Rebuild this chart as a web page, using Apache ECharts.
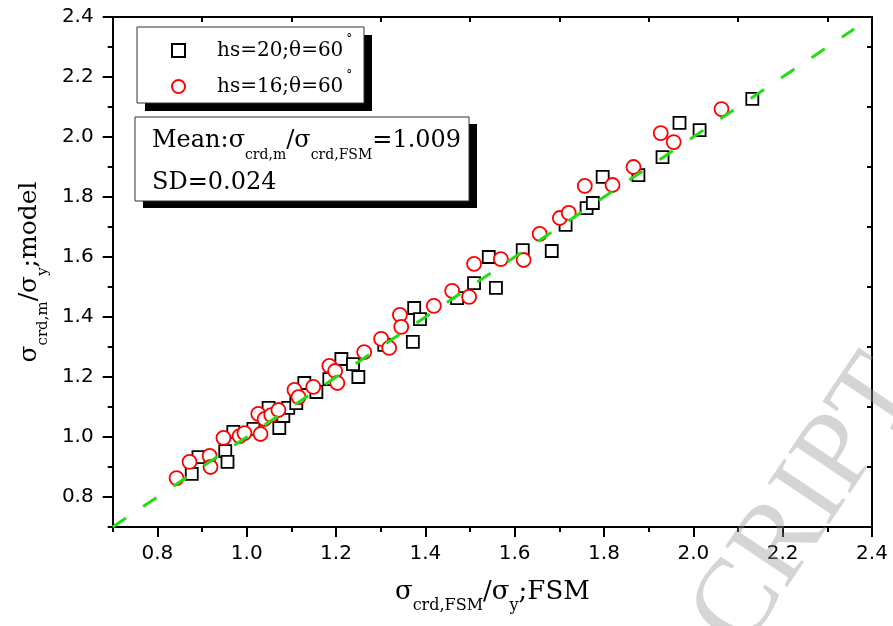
<!DOCTYPE html>
<html>
<head>
<meta charset="utf-8">
<script src="https://cdn.jsdelivr.net/npm/echarts@6/dist/echarts.min.js"></script>
<style>
  html, body { margin: 0; padding: 0; background: #fff; }
  #chart { width: 893px; height: 626px; }
</style>
</head>
<body>
<div id="chart"></div>
<script>
// hs=20 (squares)
const sqX = [0.877, 0.892, 0.952, 0.957, 0.970, 1.015, 1.049, 1.073, 1.082, 1.093, 1.111, 1.129, 1.156, 1.185, 1.212, 1.238, 1.250, 1.308,
  1.372, 1.375, 1.388, 1.471, 1.509, 1.558, 1.542, 1.618, 1.683, 1.714, 1.761, 1.775, 1.797, 1.877, 1.931, 1.969, 2.014, 2.132]
const sqY = [0.877, 0.933, 0.953, 0.917, 1.017, 1.027, 1.097, 1.030, 1.070, 1.097, 1.113, 1.180, 1.150, 1.193, 1.260, 1.243, 1.200, 1.307,
  1.317, 1.430, 1.393, 1.463, 1.513, 1.497, 1.600, 1.623, 1.620, 1.707, 1.763, 1.780, 1.867, 1.873, 1.933, 2.047, 2.023, 2.127]
// hs=16 (circles)
const ciX = [0.843, 0.872, 0.917, 0.919, 0.948, 0.984, 0.995, 1.031, 1.026, 1.040, 1.055, 1.071, 1.107, 1.116, 1.149, 1.185, 1.198, 1.203,
  1.263, 1.301, 1.319, 1.343, 1.346, 1.419, 1.460, 1.498, 1.509, 1.569, 1.620, 1.656, 1.701, 1.721, 1.757, 1.819, 1.866, 1.927, 1.956, 2.063]
const ciY = [0.863, 0.917, 0.937, 0.900, 0.997, 1.003, 1.013, 1.010, 1.077, 1.060, 1.073, 1.090, 1.157, 1.133, 1.167, 1.237, 1.220, 1.180,
  1.283, 1.327, 1.297, 1.407, 1.367, 1.437, 1.487, 1.467, 1.577, 1.593, 1.590, 1.677, 1.730, 1.747, 1.837, 1.840, 1.900, 2.013, 1.983, 2.093]
// y = x reference line
const lineX = [0.7, 2.36]

const majorTicks = [0.8, 1.0, 1.2, 1.4, 1.6, 1.8, 2.0, 2.2, 2.4]
const minorTicks = [0.7, 0.9, 1.1, 1.3, 1.5, 1.7, 1.9, 2.1, 2.3]
const innerTicks = [0.9, 1.1, 1.3, 1.5, 1.7, 1.9, 2.1, 2.3]

const seriesNames = ['hs=20;θ=60', 'hs=16;θ=60']

const serif = 'DejaVu Serif'
const sans = 'DejaVu Sans'
const lineBlack = { color: '#000', width: 2 }

function mainAxis (pos, isX) {
  return {
    type: 'value',
    min: 0.7,
    max: 2.4,
    position: pos,
    axisLine: { onZero: false, lineStyle: lineBlack },
    axisTick: { customValues: majorTicks, length: 10, lineStyle: lineBlack },
    axisLabel: {
      customValues: majorTicks,
      formatter: v => v.toFixed(1),
      fontFamily: sans,
      fontSize: 20,
      color: '#000',
      margin: isX ? 17 : 19
    },
    splitLine: { show: false }
  }
}
function tickAxis (pos, values, inside, showLine) {
  return {
    type: 'value',
    min: 0.7,
    max: 2.4,
    position: pos,
    axisLine: { show: showLine, onZero: false, lineStyle: lineBlack },
    axisTick: { customValues: values, inside: inside, length: 5, lineStyle: lineBlack },
    axisLabel: { show: false },
    splitLine: { show: false }
  }
}

const xMain = mainAxis('bottom', true)
xMain.name = '{m|σ}{s|crd,FSM}{m|/σ}{s|y}{m|;FSM}'
xMain.nameLocation = 'middle'
xMain.nameGap = 52
xMain.nameTextStyle = {
  rich: {
    m: { fontFamily: serif, fontSize: 26, lineHeight: 26, color: '#000' },
    s: { fontFamily: serif, fontSize: 16, lineHeight: 16, padding: [28, 0, 0, 0], color: '#000' }
  }
}
const yMain = mainAxis('left', false)
yMain.name = '{m|σ}{s|crd,m}{m|/σ}{s|y}{m|;model}'
yMain.nameLocation = 'middle'
yMain.nameGap = 64
yMain.nameTextStyle = {
  rich: {
    m: { fontFamily: serif, fontSize: 25, lineHeight: 25, color: '#000' },
    s: { fontFamily: serif, fontSize: 15, lineHeight: 15, padding: [28, 0, 0, 0], color: '#000' }
  }
}

const myChart = echarts.init(document.getElementById('chart'))
const option = {
  backgroundColor: '#fff',
  animation: false,
  grid: { left: 111, top: 17, right: 21, bottom: 99, containLabel: false },
  xAxis: [xMain, tickAxis('top', innerTicks, true, true), tickAxis('bottom', minorTicks, false, false)],
  yAxis: [yMain, tickAxis('right', innerTicks, true, true), tickAxis('left', minorTicks, false, false)],
  legend: {
    data: seriesNames,
    orient: 'vertical',
    left: 171,
    top: 34,
    padding: 0,
    itemWidth: 13,
    itemHeight: 13,
    itemGap: 3,
    formatter: name => '{t|' + name + '}{d|°}',
    textStyle: {
      rich: {
        t: { fontFamily: serif, fontSize: 20, lineHeight: 24, padding: [0, 0, 0, 27], color: '#000' },
        d: { fontFamily: serif, fontSize: 12, lineHeight: 12, padding: [0, 0, 21, 3], color: '#000' }
      }
    }
  },
  graphic: [
    // legend box
    { type: 'rect', z: 1, shape: { x: 145, y: 35, width: 227, height: 76 }, style: { fill: '#000' } },
    { type: 'rect', z: 2, shape: { x: 137, y: 27, width: 227, height: 76 }, style: { fill: '#fff', stroke: '#333', lineWidth: 1 } },
    // statistics box
    { type: 'rect', z: 1, shape: { x: 143, y: 124, width: 334, height: 84 }, style: { fill: '#000' } },
    { type: 'rect', z: 2, shape: { x: 135, y: 117, width: 334, height: 84 }, style: { fill: '#fff', stroke: '#333', lineWidth: 1 } },
    {
      type: 'text', z: 3, x: 152, y: 141,
      style: {
        text: '{m|Mean:σ}{s|crd,m}{m|/σ}{s|crd,FSM}{m|=1.009}',
        verticalAlign: 'middle',
        rich: {
          m: { fontFamily: serif, fontSize: 24, lineHeight: 24, fill: '#000' },
          s: { fontFamily: serif, fontSize: 14, lineHeight: 14, padding: [28, 0, 0, 0], fill: '#000' }
        }
      }
    },
    {
      type: 'text', z: 3, x: 152, y: 183,
      style: { text: 'SD=0.024', font: '24px "DejaVu Serif"', fill: '#000', verticalAlign: 'middle' }
    },
    // watermark
    {
      type: 'text', z: 100, x: 765, y: 668, rotation: 0.98,
      style: { text: 'CRIPT', font: '113px "Liberation Serif"', fill: 'rgba(150,150,150,0.4)', verticalAlign: 'bottom' }
    }
  ],
  series: [
    {
      name: seriesNames[0],
      type: 'scatter',
      symbol: 'rect',
      symbolSize: 12,
      z: 2,
      itemStyle: { color: '#fff', borderColor: '#000', borderWidth: 1.8, opacity: 1 },
      data: sqX.map((x, i) => [x, sqY[i]])
    },
    {
      name: seriesNames[1],
      type: 'scatter',
      symbol: 'circle',
      symbolSize: 14,
      z: 3,
      itemStyle: { color: '#fff', borderColor: '#ff0000', borderWidth: 1.8, opacity: 1 },
      data: ciX.map((x, i) => [x, ciY[i]])
    },
    {
      type: 'line',
      z: 4,
      symbol: 'none',
      silent: true,
      lineStyle: { color: '#22dd11', width: 3, type: [16, 20.6] },
      data: lineX.map(x => [x, x])
    }
  ]
}
myChart.setOption(option)
</script>
</body>
</html>
